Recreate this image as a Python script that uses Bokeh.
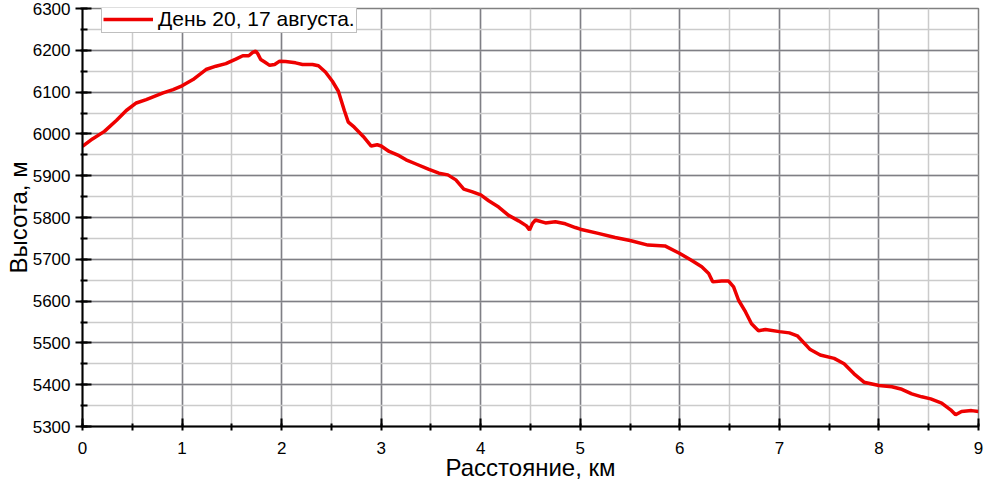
from bokeh.plotting import figure
from bokeh.models import Range1d, SingleIntervalTicker, Legend, LegendItem
from bokeh.embed import file_html
from bokeh.resources import INLINE

distance_km = [0.00, 0.10, 0.22, 0.34, 0.44, 0.54, 0.64, 0.81, 0.91, 1.00,
               1.11, 1.24, 1.34, 1.44, 1.54, 1.61, 1.67, 1.71, 1.74, 1.76,
               1.79, 1.83, 1.88, 1.93, 1.98, 2.04, 2.14, 2.21, 2.31, 2.37,
               2.44, 2.51, 2.57, 2.63, 2.67, 2.73, 2.82, 2.90, 2.96, 3.00,
               3.08, 3.18, 3.25, 3.35, 3.48, 3.58, 3.67, 3.75, 3.83, 3.91,
               4.00, 4.08, 4.18, 4.28, 4.38, 4.46, 4.49, 4.52, 4.55, 4.65,
               4.75, 4.85, 4.95, 5.00, 5.18, 5.35, 5.50, 5.68, 5.85, 6.00,
               6.12, 6.22, 6.29, 6.33, 6.42, 6.49, 6.54, 6.59, 6.66, 6.72,
               6.79, 6.86, 7.00, 7.10, 7.18, 7.31, 7.41, 7.55, 7.65, 7.75,
               7.85, 8.00, 8.13, 8.23, 8.33, 8.43, 8.52, 8.63, 8.72, 8.77,
               8.83, 8.93, 9.00]
elevation_m = [5970, 5988, 6006, 6032, 6056, 6074, 6082, 6098, 6106, 6115,
               6130, 6154, 6162, 6168, 6179, 6187, 6187, 6195, 6198, 6192,
               6178, 6172, 6164, 6166, 6174, 6173, 6170, 6166, 6166, 6163,
               6148, 6126, 6102, 6056, 6028, 6016, 5994, 5971, 5974, 5971,
               5958, 5948, 5938, 5928, 5915, 5906, 5902, 5890, 5868, 5862,
               5854, 5840, 5825, 5805, 5792, 5780, 5770, 5786, 5794, 5787,
               5790, 5785, 5776, 5772, 5762, 5752, 5745, 5734, 5732, 5714,
               5697, 5682, 5666, 5646, 5648, 5648, 5634, 5602, 5574, 5546,
               5529, 5532, 5527, 5524, 5517, 5484, 5471, 5463, 5450, 5426,
               5406, 5398, 5395, 5389, 5378, 5371, 5366, 5356, 5340, 5328,
               5336, 5338, 5336]

series_label = "День 20, 17 августа."
x_title = "Расстояние, км"
y_title = "Высота, м"

FONT = "Liberation Sans"
FRAME_W, FRAME_H = 896, 418

p = figure(frame_width=FRAME_W, frame_height=FRAME_H,
           output_backend="svg", toolbar_location=None,
           x_range=Range1d(0, 9), y_range=Range1d(5300, 6300),
           min_border_left=82, min_border_right=7,
           min_border_top=8, min_border_bottom=59)
p.background_fill_color = "white"
p.border_fill_color = "white"
p.outline_line_color = "#808080"
p.outline_line_width = 1.5

p.xaxis.ticker = SingleIntervalTicker(interval=1, num_minor_ticks=2)
p.yaxis.ticker = SingleIntervalTicker(interval=100, num_minor_ticks=2)
p.xgrid.ticker = p.xaxis.ticker
p.ygrid.ticker = p.yaxis.ticker

for g in (p.xgrid, p.ygrid):
    g.grid_line_color = "#7f7f85"
    g.grid_line_width = 1.5
    g.minor_grid_line_color = "#cbcbcb"
    g.minor_grid_line_width = 1.5

for ax in (p.xaxis, p.yaxis):
    ax.axis_line_color = "black"
    ax.axis_line_width = 2
    ax.major_tick_line_color = "black"
    ax.major_tick_line_width = 2
    ax.minor_tick_line_color = "black"
    ax.minor_tick_line_width = 2
    ax.major_label_text_font = FONT
    ax.major_label_text_font_size = "17px"
    ax.major_label_text_color = "black"
    ax.axis_label_text_font = FONT
    ax.axis_label_text_font_size = "24px"
    ax.axis_label_text_font_style = "normal"
    ax.axis_label_text_color = "black"

p.xaxis.major_tick_in = 8
p.xaxis.major_tick_out = 0
p.xaxis.minor_tick_in = 3
p.xaxis.minor_tick_out = 4
p.xaxis.major_label_standoff = 11
p.xaxis.axis_label = x_title
p.xaxis.axis_label_standoff = -3

p.yaxis.major_tick_in = 9
p.yaxis.major_tick_out = 7
p.yaxis.minor_tick_in = 5
p.yaxis.minor_tick_out = 2
p.yaxis.major_label_standoff = 5
p.yaxis.axis_label = y_title
p.yaxis.axis_label_standoff = -2

r = p.line(distance_km, elevation_m, line_color="#ee0000", line_width=3.5)

legend_h = 26
legend = Legend(items=[LegendItem(label=series_label, renderers=[r])],
                location=(19, FRAME_H - legend_h + 1))
legend.label_text_font = FONT
legend.label_text_font_size = "21px"
legend.label_text_color = "black"
legend.label_height = 24
legend.glyph_height = 24
legend.glyph_width = 50
legend.label_standoff = 5
legend.padding = 1
legend.margin = 0
legend.border_line_color = "#808080"
legend.border_line_width = 1
legend.background_fill_color = "white"
legend.background_fill_alpha = 1
p.add_layout(legend)

open("out.html", "w").write(file_html(p, INLINE))
